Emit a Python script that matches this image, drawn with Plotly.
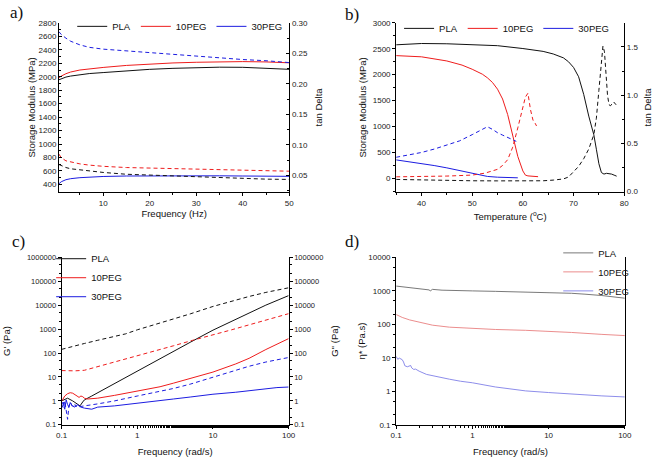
import plotly.graph_objects as go

# ---------------- Panel a: DMA frequency sweep ----------------
freq_a = [0.5, 1, 2, 3, 5, 7, 10, 15, 20, 25, 30, 35, 40, 45, 50]
a_mod_pla = [1955, 1972, 1995, 2010, 2032, 2047, 2062, 2090, 2110, 2125, 2134, 2142, 2140, 2128, 2110]
a_mod_10peg = [1985, 2010, 2045, 2070, 2100, 2118, 2138, 2168, 2190, 2205, 2215, 2222, 2225, 2220, 2207]
a_mod_30peg = [410, 440, 470, 485, 500, 510, 518, 525, 528, 530, 530, 528, 525, 522, 520]
a_tan_pla = [0.068, 0.066, 0.063, 0.061, 0.059, 0.057, 0.055, 0.052, 0.0505, 0.049, 0.0475, 0.046, 0.045, 0.044, 0.0435]
a_tan_10peg = [0.085, 0.079, 0.074, 0.072, 0.069, 0.067, 0.065, 0.063, 0.062, 0.061, 0.060, 0.0595, 0.059, 0.058, 0.057]
a_tan_30peg = [0.2855, 0.281, 0.275, 0.270, 0.264, 0.260, 0.257, 0.254, 0.252, 0.249, 0.246, 0.243, 0.240, 0.238, 0.235]

# ---------------- Panel b: DMA temperature sweep ----------------
b_temp_pla = [35, 40, 45, 50, 55, 60, 62, 64, 66, 67, 68, 69, 70, 71, 72, 73, 74, 74.5, 75, 75.5, 76, 76.5, 77, 77.5, 78, 78.5]
b_mod_pla = [2577, 2602, 2597, 2585, 2560, 2505, 2480, 2450, 2400, 2370, 2325, 2250, 2140, 1960, 1620, 1200, 840, 560, 280, 110, 80, 95, 92, 80, 60, 40]
b_ttan_pla = [35, 40, 45, 50, 55, 60, 64, 66, 68, 69, 70, 71, 72, 73, 74, 74.5, 75, 75.5, 75.8, 76.1, 76.4, 76.7, 77.0, 77.3, 77.6, 77.9, 78.4]
b_tan_pla = [0.125, 0.118, 0.113, 0.111, 0.110, 0.109, 0.111, 0.118, 0.13, 0.15, 0.2, 0.26, 0.34, 0.44, 0.59, 0.76, 1.05, 1.38, 1.51, 1.45, 1.22, 1.0, 0.9, 0.89, 0.91, 0.93, 0.9]
b_temp_10peg = [35, 40, 45, 48, 50, 52, 53, 54, 55, 56, 57, 58, 59, 60, 60.5, 61, 62, 63]
b_mod_10peg = [2368, 2345, 2265, 2185, 2105, 2010, 1940, 1850, 1720, 1530, 1230, 830, 420, 140, 60, 45, 42, 30]
b_ttan_10peg = [35, 40, 45, 50, 52.5, 55, 56, 57, 58, 59, 60, 60.5, 61, 61.5, 62, 62.3, 62.7]
b_tan_10peg = [0.152, 0.155, 0.16, 0.17, 0.19, 0.23, 0.27, 0.33, 0.46, 0.66, 0.87, 0.98, 1.02, 0.85, 0.74, 0.72, 0.68]
b_temp_30peg = [35, 37.5, 40, 42.5, 45, 47.5, 50, 51, 52, 53, 55, 57, 59]
b_mod_30peg = [354, 320, 285, 245, 200, 145, 90, 68, 50, 35, 20, 12, 8]
b_ttan_30peg = [35, 37.5, 40, 42.5, 45, 47.5, 50, 51, 52, 53, 54, 55, 56, 57, 58, 58.7]
b_tan_30peg = [0.355, 0.38, 0.405, 0.44, 0.48, 0.525, 0.59, 0.62, 0.65, 0.672, 0.645, 0.61, 0.585, 0.56, 0.54, 0.52]

# ---------------- Panel c: rheology G' (solid) and G'' (dashed) ----------------
c_f_pla_g1 = [0.1, 0.12, 0.14, 0.16, 0.175, 0.19, 0.2, 0.25, 0.3, 0.4, 0.5, 0.7, 1, 2, 3, 5, 10, 20, 30, 50, 100]
c_pla_g1 = [1.0, 1.3, 1.0, 0.75, 0.62, 0.9, 1.1, 1.6, 2.2, 3.6, 5.0, 8.9, 18, 58, 115, 280, 900, 2500, 4500, 10000, 25000]
c_f_pla_g2 = [0.1, 0.15, 0.2, 0.3, 0.5, 0.7, 1, 2, 3, 5, 10, 20, 30, 50, 100]
c_pla_g2 = [142, 190, 250, 340, 480, 630, 930, 1750, 2650, 4300, 8800, 16500, 23000, 34000, 53000]
c_f_10peg_g1 = [0.1, 0.11, 0.12, 0.13, 0.14, 0.15, 0.16, 0.17, 0.18, 0.19, 0.2, 0.22, 0.25, 0.3, 0.5, 1, 2, 3, 5, 10, 20, 30, 50, 100]
c_10peg_g1 = [0.95, 1.6, 2.0, 2.2, 2.1, 1.9, 1.6, 1.4, 1.6, 1.5, 1.3, 1.2, 1.25, 1.3, 1.7, 2.5, 3.9, 5.5, 8.5, 16, 35, 60, 140, 400]
c_f_10peg_g2 = [0.1, 0.15, 0.2, 0.3, 0.5, 0.7, 1, 2, 3, 5.4, 10, 17.6, 30, 50, 100]
c_10peg_g2 = [18.5, 18, 19, 27, 40, 55, 78, 140, 200, 340, 560, 930, 1500, 2400, 4400]
c_f_30peg_g1 = [0.1, 0.105, 0.11, 0.115, 0.12, 0.125, 0.13, 0.14, 0.15, 0.16, 0.18, 0.2, 0.25, 0.3, 0.5, 1, 2, 3, 5, 10, 20, 30, 50, 70, 100]
c_30peg_g1 = [0.7, 0.9, 0.45, 1.1, 0.7, 0.55, 0.85, 0.6, 0.55, 0.7, 0.55, 0.5, 0.45, 0.55, 0.62, 0.78, 1.0, 1.2, 1.45, 1.9, 2.3, 2.7, 3.3, 3.6, 3.8]
c_f_30peg_g2 = [0.1, 0.105, 0.11, 0.115, 0.12, 0.125, 0.13, 0.14, 0.15, 0.16, 0.18, 0.2, 0.3, 0.5, 1, 2, 3, 5, 10, 20, 30, 50, 100]
c_30peg_g2 = [0.75, 0.5, 1.0, 0.4, 0.17, 0.6, 0.9, 0.55, 0.7, 0.55, 0.6, 0.62, 0.75, 1.0, 1.6, 2.5, 3.3, 5.0, 10, 20, 28, 42, 65]

# ---------------- Panel d: complex viscosity ----------------
d_f_pla = [0.1, 0.15, 0.2, 0.25, 0.27, 0.28, 0.29, 0.3, 0.4, 0.5, 1, 2, 5, 10, 20, 30, 50, 100]
d_eta_pla = [1380, 1250, 1160, 1110, 1060, 990, 1050, 1100, 1040, 1020, 990, 960, 920, 890, 840, 790, 720, 600]
d_f_10peg = [0.1, 0.12, 0.15, 0.2, 0.3, 0.5, 1, 2, 5, 10, 20, 50, 100]
d_eta_10peg = [195, 160, 135, 115, 94, 82, 74, 70, 66, 62, 57, 50, 46]
d_f_30peg = [0.1, 0.105, 0.11, 0.115, 0.12, 0.125, 0.13, 0.14, 0.15, 0.155, 0.16, 0.17, 0.18, 0.2, 0.25, 0.3, 0.4, 0.5, 0.7, 1, 2, 3, 5, 10, 20, 30, 50, 100]
d_eta_30peg = [11, 9.0, 9.8, 9.5, 8.8, 7.5, 5.8, 5.4, 5.8, 5.9, 5.0, 4.5, 4.6, 4.0, 3.2, 2.9, 2.5, 2.3, 2.0, 1.8, 1.35, 1.18, 1.03, 0.92, 0.82, 0.78, 0.73, 0.68]

names = ["PLA", "10PEG", "30PEG"]
log_tickvals = [0.1, 1, 10, 100, 1000, 10000, 100000, 1000000]
log_ticktext = ["0.1", "1", "10", "100", "1000", "10000", "100000", "1000000"]

COLORS = ["#111111", "#ee1c1c", "#1c1ce0"]
COLORS_D = ["#6a6a6a", "#e98080", "#8080e8"]
DASH = "4px,3px"
SANS = "Liberation Sans, Arial, sans-serif"
TICKFONT = dict(family=SANS, size=8, color="#222")
TICKFONT_S = dict(family=SANS, size=7.5, color="#222")
TITLEFONT = dict(family=SANS, size=9.5, color="#111")
LEGFONT = dict(family=SANS, size=9.5, color="#111")

fig = go.Figure()

def line(x, y, color, xa, ya, name, dashed=False, legend=None, width=1.0):
    fig.add_trace(go.Scatter(
        x=x, y=y, mode="lines", name=name, xaxis=xa, yaxis=ya,
        line=dict(color=color, width=width, dash=DASH if dashed else "solid"),
        showlegend=(legend is not None), legend=legend if legend else "legend",
    ))

# panel a
for n, c, m, t in zip(names, COLORS, [a_mod_pla, a_mod_10peg, a_mod_30peg], [a_tan_pla, a_tan_10peg, a_tan_30peg]):
    line(freq_a, m, c, "x", "y", n, legend="legend")
    line(freq_a, t, c, "x", "y2", n, dashed=True)
# panel b
for n, c, tm, m, tt, t in zip(names, COLORS,
                              [b_temp_pla, b_temp_10peg, b_temp_30peg], [b_mod_pla, b_mod_10peg, b_mod_30peg],
                              [b_ttan_pla, b_ttan_10peg, b_ttan_30peg], [b_tan_pla, b_tan_10peg, b_tan_30peg]):
    line(tm, m, c, "x2", "y3", n, legend="legend2")
    line(tt, t, c, "x2", "y4", n, dashed=True)
# panel c
for n, c, f1, g1, f2, g2 in zip(names, COLORS,
                                [c_f_pla_g1, c_f_10peg_g1, c_f_30peg_g1], [c_pla_g1, c_10peg_g1, c_30peg_g1],
                                [c_f_pla_g2, c_f_10peg_g2, c_f_30peg_g2], [c_pla_g2, c_10peg_g2, c_30peg_g2]):
    line(f1, g1, c, "x3", "y5", n, legend="legend3")
    line(f2, g2, c, "x3", "y6", n, dashed=True)
# panel d
for n, c, f, e in zip(names, COLORS_D, [d_f_pla, d_f_10peg, d_f_30peg], [d_eta_pla, d_eta_10peg, d_eta_30peg]):
    line(f, e, c, "x4", "y7", n, legend="legend4", width=0.9)

def ax(**kw):
    base = dict(showline=True, linecolor="black", linewidth=1, ticks="outside", ticklen=3,
                tickwidth=1, tickcolor="black", showgrid=False, zeroline=False,
                tickfont=TICKFONT, title_font=TITLEFONT)
    base.update(kw)
    return base

def minor(dtick=None, ticks="outside"):
    d = dict(ticks=ticks, ticklen=2, tickcolor="black", showgrid=False)
    if dtick is not None:
        d["dtick"] = dtick
    return d

AY_TOP = [0.5814, 0.9579]
AY_BOT = [0.0627, 0.4360]

fig.update_layout(
    width=658, height=458, margin=dict(l=0, r=0, t=0, b=0),
    paper_bgcolor="white", plot_bgcolor="white",
    # panel a
    xaxis=ax(domain=[0.0821, 0.4392], anchor="y", range=[0.5, 50], dtick=10, tick0=0, minor=minor(5),
             title=dict(text="Frequency (Hz)", standoff=2)),
    yaxis=ax(domain=AY_TOP, anchor="x", range=[288, 2800], dtick=200, tick0=0,
             ticks="inside", minor=minor(100, "inside"),
             title=dict(text="Storage Modulus (MPa)", standoff=1)),
    yaxis2=ax(overlaying="y", anchor="x", side="right", range=[0.023, 0.30], dtick=0.05, tick0=0,
              ticks="inside", tickformat=".2f", minor=minor(0.025, "inside"),
              title=dict(text="tan Delta", standoff=8)),
    # panel b
    xaxis2=ax(domain=[0.6049, 0.9585], anchor="y3", range=[35, 80], dtick=10, tick0=0, minor=minor(5),
              title=dict(text="Temperature (<sup>o</sup>C)", standoff=6)),
    yaxis3=ax(domain=AY_TOP, anchor="x2", range=[-265, 3000], dtick=500, tick0=0, minor=minor(250),
              title=dict(text="Storage Modulus (MPa)", standoff=4)),
    yaxis4=ax(overlaying="y3", anchor="x2", side="right", range=[-0.005, 1.75], dtick=0.5, tick0=0,
              ticks="inside", tickformat=".1f", minor=minor(0.25, "inside"),
              title=dict(text="tan Delta", standoff=6)),
    # panel c
    xaxis3=ax(domain=[0.0862, 0.4382], anchor="y5", type="log", range=[-1, 2],
              tickvals=log_tickvals[:4], ticktext=log_ticktext[:4], minor=minor(),
              title=dict(text="Frequency (rad/s)", standoff=8)),
    yaxis5=ax(domain=AY_BOT, anchor="x3", type="log", range=[-1, 6], tickfont=TICKFONT_S,
              tickvals=log_tickvals, ticktext=log_ticktext, minor=minor(),
              title=dict(text="G' (Pa)", standoff=14)),
    yaxis6=ax(overlaying="y5", anchor="x3", side="right", type="log", range=[-1, 6], tickfont=TICKFONT_S,
              tickvals=log_tickvals, ticktext=log_ticktext, minor=minor(),
              title=dict(text="G'' (Pa)", standoff=9)),
    # panel d
    xaxis4=ax(domain=[0.6049, 0.9594], anchor="y7", type="log", range=[-1, 2],
              tickvals=log_tickvals[:4], ticktext=log_ticktext[:4], minor=minor(),
              title=dict(text="Frequency (rad/s)", standoff=8)),
    yaxis7=ax(domain=AY_BOT, anchor="x4", type="log", range=[-1, 4], mirror=True,
              tickvals=log_tickvals[:6], ticktext=log_ticktext[:6], minor=minor(),
              title=dict(text="η* (Pa.s)", standoff=0)),
    legend=dict(orientation="h", x=0.436, y=0.9825, xanchor="right", yanchor="top",
                font=LEGFONT, bgcolor="rgba(0,0,0,0)", itemwidth=30, tracegroupgap=0),
    legend2=dict(orientation="h", x=0.6094, y=0.978, xanchor="left", yanchor="top",
                 font=LEGFONT, bgcolor="rgba(0,0,0,0)", itemwidth=30),
    legend3=dict(orientation="v", x=0.070, y=0.465, xanchor="left", yanchor="top",
                 font=LEGFONT, bgcolor="rgba(0,0,0,0)", itemwidth=30, tracegroupgap=0),
    legend4=dict(orientation="v", x=0.974, y=0.478, xanchor="right", yanchor="top",
                 font=LEGFONT, bgcolor="rgba(0,0,0,0)", itemwidth=30, tracegroupgap=0),
)

SERIF = "Liberation Serif, Times New Roman, serif"
for txt, x, y in [("a)", 2, 9), ("b)", 344, 11), ("c)", 4, 242), ("d)", 344, 242)]:
    fig.add_annotation(text=txt, x=x / 658, y=1 - y / 458, xref="paper", yref="paper",
                       xanchor="left", yanchor="middle", showarrow=False,
                       font=dict(family=SERIF, size=17, color="#111"))

# remove the browser's default 8px page margin so the 658x458 figure fills the window exactly
fig.write_html("out.html", config={"displayModeBar": False},
               post_script="document.body.style.margin='0px';document.body.style.overflow='hidden';")
